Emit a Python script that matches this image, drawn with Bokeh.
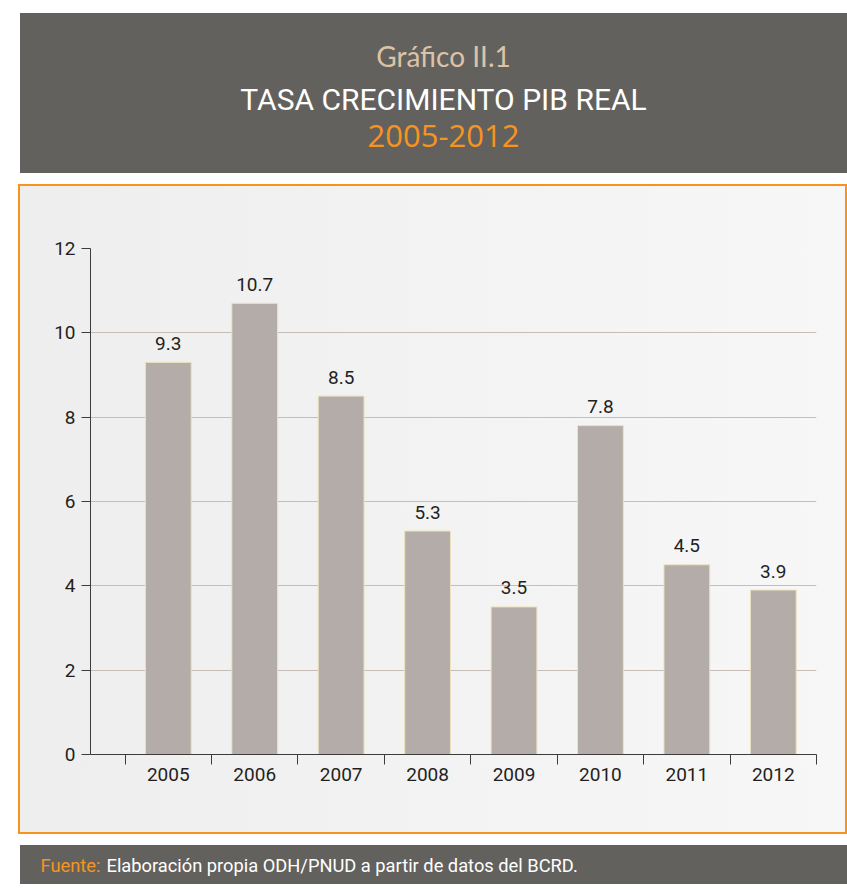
from bokeh.plotting import figure
from bokeh.layouts import column, row
from bokeh.models import Range1d, FixedTicker, ColumnDataSource, Label
from bokeh.core.properties import value
from bokeh.embed import file_html
from bokeh.resources import INLINE

# ---- data ----
years = ["2005", "2006", "2007", "2008", "2009", "2010", "2011", "2012"]
growth = [9.3, 10.7, 8.5, 5.3, 3.5, 7.8, 4.5, 3.9]
y_ticks = [0, 2, 4, 6, 8, 10, 12]

chart_number = "Gráfico II.1"
chart_title = "TASA CRECIMIENTO PIB REAL"
chart_period = "2005-2012"
source_label = "Fuente:"
source_text = "Elaboración propia ODH/PNUD a partir de datos del BCRD."

HEADER_BG = "#63615e"
ORANGE = "#f7941d"
PANEL_BG = "linear-gradient(to right, #eeeeee, #f7f7f7)"
BAR = "#b4aca8"
FONT = "Roboto"

W = 827


def banner(height, top_margin):
    f = figure(width=W, height=height, x_range=Range1d(0, W),
               y_range=Range1d(0, height), output_backend="svg",
               toolbar_location=None, min_border=0,
               margin=(top_margin, 0, 0, 20),
               styles={"background-color": HEADER_BG})
    f.axis.visible = False
    f.grid.visible = False
    f.outline_line_color = None
    f.background_fill_color = HEADER_BG
    f.border_fill_color = HEADER_BG
    return f


# ---- header ----
hdr = banner(160, 13)
cx = 423
hdr.add_layout(Label(x=cx, y=118, text=chart_number, text_font="Lato",
                     text_font_size="28px", text_color="#dcc3a6",
                     text_align="center", text_baseline="alphabetic"))
hdr.add_layout(Label(x=cx, y=74, text=chart_title, text_font=FONT,
                     text_font_size="30px", text_color="#ffffff",
                     text_align="center", text_baseline="alphabetic"))
hdr.add_layout(Label(x=cx, y=38, text=chart_period, text_font="Open Sans",
                     text_font_size="31px", text_color=ORANGE,
                     text_align="center", text_baseline="alphabetic"))

# ---- main chart ----
centers = [i + 0.5 for i in range(len(years))]
bounds = list(range(len(years) + 1))
src = ColumnDataSource(dict(x=centers, top=growth, lab=[f"{v:.1f}" for v in growth]))

p = figure(width=825, height=646, x_range=Range1d(-0.4, len(years)),
           y_range=Range1d(0, 12), output_backend="svg", toolbar_location=None,
           min_border_left=70, min_border_right=33, min_border_top=62,
           min_border_bottom=82, margin=(11, 0, 0, 18),
           styles={"border": f"2px solid {ORANGE}", "box-sizing": "content-box",
                   "background": PANEL_BG})
p.background_fill_color = None
p.border_fill_color = None
p.outline_line_color = None

p.vbar(x="x", top="top", width=0.53, bottom=0, source=src, fill_color=BAR,
       line_color="#ece3bd", line_width=1)
p.text(x="x", y="top", text="lab", source=src, y_offset=-19,
       text_font=value(FONT), text_font_size="19px", text_color="#231f20",
       text_align="center", text_baseline="alphabetic")

p.xgrid.visible = False
p.ygrid.grid_line_color = "#c6bdb9"
p.ygrid.grid_line_width = 1
p.ygrid.ticker = FixedTicker(ticks=y_ticks)

p.yaxis.ticker = FixedTicker(ticks=y_ticks)
p.yaxis.major_tick_out = 9
p.yaxis.major_tick_in = 0
p.yaxis.minor_tick_line_color = None
p.yaxis.axis_line_color = "#3c3c3c"
p.yaxis.major_tick_line_color = "#3c3c3c"
p.yaxis.major_label_standoff = 6
p.yaxis.major_label_text_font = FONT
p.yaxis.major_label_text_font_size = "19px"
p.yaxis.major_label_text_color = "#231f20"

p.xaxis.ticker = FixedTicker(ticks=centers, minor_ticks=bounds)
p.xaxis.major_label_overrides = {c: y for c, y in zip(centers, years)}
p.xaxis.major_tick_out = 0
p.xaxis.major_tick_in = 0
p.xaxis.minor_tick_out = 10
p.xaxis.minor_tick_in = 0
p.xaxis.minor_tick_line_color = "#3c3c3c"
p.xaxis.axis_line_color = "#3c3c3c"
p.xaxis.major_label_standoff = 3
p.xaxis.major_label_text_font = FONT
p.xaxis.major_label_text_font_size = "19px"
p.xaxis.major_label_text_color = "#231f20"

# ---- footer ----
ftr = banner(39, 11)
ftr.add_layout(Label(x=20, y=19, text=source_label, text_font=FONT,
                     text_font_size="18.3px", text_color=ORANGE,
                     text_baseline="alphabetic"))
ftr.add_layout(Label(x=86, y=19, text=source_text, text_font=FONT,
                     text_font_size="18.3px", text_color="#ffffff",
                     text_baseline="alphabetic"))

layout = column(row(hdr), p, row(ftr), spacing=0)
open("out.html", "w").write(file_html(layout, INLINE))
